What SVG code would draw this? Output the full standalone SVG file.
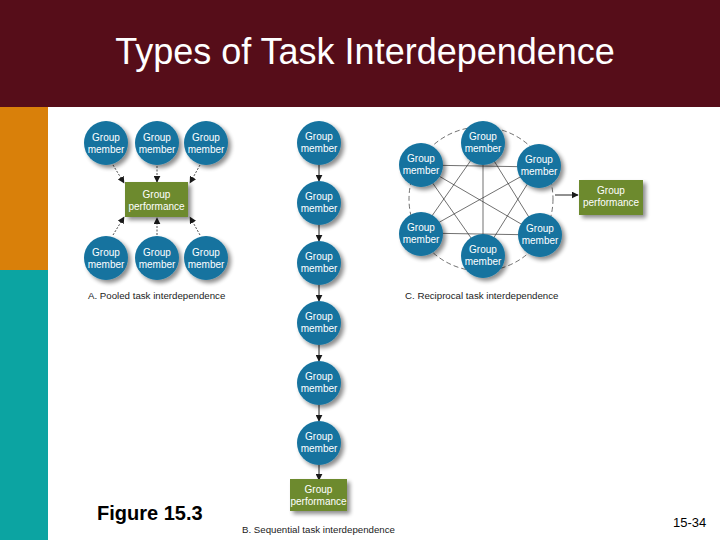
<svg xmlns="http://www.w3.org/2000/svg" width="720" height="540" viewBox="0 0 720 540">
<defs>
<filter id="sh" x="-30%" y="-30%" width="170%" height="170%">
<feGaussianBlur in="SourceAlpha" stdDeviation="2"/>
<feOffset dx="3" dy="3" result="b"/>
<feComponentTransfer><feFuncA type="linear" slope="0.45"/></feComponentTransfer>
<feMerge><feMergeNode/><feMergeNode in="SourceGraphic"/></feMerge>
</filter>
<marker id="ah" viewBox="0 0 10 10" refX="9" refY="5" markerWidth="7" markerHeight="7" orient="auto" markerUnits="userSpaceOnUse">
<path d="M0,0 L10,5 L0,10 z" fill="#1a1a1a"/>
</marker>
</defs>
<style>
.c{fill:#14739f;filter:url(#sh)}
.b{fill:#6d8a2f;filter:url(#sh)}
.t{font-family:"Liberation Sans",Arial,sans-serif;font-size:10px;fill:#fff;text-anchor:middle}
.lbl{font-family:"Liberation Sans",Arial,sans-serif;font-size:9.7px;fill:#222}
.pa{stroke:#222;stroke-width:0.8;stroke-dasharray:2,1.5;fill:none}
.sa{stroke:#222;stroke-width:1;fill:none}
.rl{stroke:#333;stroke-width:0.7;fill:none}
</style>
<rect x="0" y="0" width="720" height="540" fill="#fff"/>
<rect x="0" y="0" width="720" height="107" fill="#560d19"/>
<rect x="0" y="107" width="48" height="163" fill="#d9800a"/>
<rect x="0" y="270" width="48" height="270" fill="#0ca4a2"/>
<text x="365" y="64" font-family="Liberation Sans,Arial,sans-serif" font-size="36" fill="#fff" text-anchor="middle">Types of Task Interdependence</text>

<g id="connectors">
<line class="pa" x1="113" y1="165" x2="124" y2="183" marker-end="url(#ah)"/>
<line class="pa" x1="157" y1="166" x2="157" y2="182" marker-end="url(#ah)"/>
<line class="pa" x1="200" y1="165" x2="190" y2="183" marker-end="url(#ah)"/>
<line class="pa" x1="113" y1="235" x2="124" y2="217" marker-end="url(#ah)"/>
<line class="pa" x1="157" y1="235" x2="157" y2="218" marker-end="url(#ah)"/>
<line class="pa" x1="200" y1="235" x2="190" y2="217" marker-end="url(#ah)"/>

<line class="sa" x1="319" y1="165" x2="319" y2="181" marker-end="url(#ah)"/>
<line class="sa" x1="319" y1="225" x2="319" y2="241" marker-end="url(#ah)"/>
<line class="sa" x1="319" y1="285" x2="319" y2="301" marker-end="url(#ah)"/>
<line class="sa" x1="319" y1="345" x2="319" y2="361" marker-end="url(#ah)"/>
<line class="sa" x1="319" y1="405" x2="319" y2="421" marker-end="url(#ah)"/>
<line class="sa" x1="319" y1="465" x2="319" y2="480" marker-end="url(#ah)"/>

<circle cx="481" cy="199" r="72" class="rl" stroke-dasharray="5,3"/>
<line class="rl" x1="483" y1="143" x2="483" y2="255"/>
<line class="rl" x1="420" y1="165" x2="538" y2="167"/>
<line class="rl" x1="420" y1="233" x2="540" y2="235"/>
<line class="rl" x1="420" y1="165" x2="540" y2="235"/>
<line class="rl" x1="538" y1="167" x2="420" y2="233"/>
<line class="rl" x1="483" y1="143" x2="420" y2="233"/>
<line class="rl" x1="483" y1="143" x2="540" y2="235"/>
<line class="rl" x1="483" y1="255" x2="420" y2="165"/>
<line class="rl" x1="483" y1="255" x2="538" y2="167"/>
<line class="sa" x1="555" y1="195" x2="578" y2="195" marker-end="url(#ah)"/>
</g>

<g id="pooled-m1"><circle class="c" cx="106" cy="143" r="22"/><text class="t" x="106" y="141">Group</text><text class="t" x="106" y="153">member</text></g>
<g id="pooled-m2"><circle class="c" cx="157" cy="143" r="22"/><text class="t" x="157" y="141">Group</text><text class="t" x="157" y="153">member</text></g>
<g id="pooled-m3"><circle class="c" cx="206" cy="143" r="22"/><text class="t" x="206" y="141">Group</text><text class="t" x="206" y="153">member</text></g>
<g id="pooled-perf"><rect class="b" x="125" y="182" width="63" height="35"/><text class="t" x="156.5" y="198">Group</text><text class="t" x="156.5" y="210">performance</text></g>
<g id="pooled-m4"><circle class="c" cx="106" cy="258" r="22"/><text class="t" x="106" y="256">Group</text><text class="t" x="106" y="268">member</text></g>
<g id="pooled-m5"><circle class="c" cx="157" cy="258" r="22"/><text class="t" x="157" y="256">Group</text><text class="t" x="157" y="268">member</text></g>
<g id="pooled-m6"><circle class="c" cx="206" cy="258" r="22"/><text class="t" x="206" y="256">Group</text><text class="t" x="206" y="268">member</text></g>
<text class="lbl" x="88" y="299">A. Pooled task interdependence</text>

<g id="seq-m1"><circle class="c" cx="319" cy="143" r="22"/><text class="t" x="319" y="140">Group</text><text class="t" x="319" y="152">member</text></g>
<g id="seq-m2"><circle class="c" cx="319" cy="203" r="22"/><text class="t" x="319" y="200">Group</text><text class="t" x="319" y="212">member</text></g>
<g id="seq-m3"><circle class="c" cx="319" cy="263" r="22"/><text class="t" x="319" y="260">Group</text><text class="t" x="319" y="272">member</text></g>
<g id="seq-m4"><circle class="c" cx="319" cy="323" r="22"/><text class="t" x="319" y="320">Group</text><text class="t" x="319" y="332">member</text></g>
<g id="seq-m5"><circle class="c" cx="319" cy="383" r="22"/><text class="t" x="319" y="380">Group</text><text class="t" x="319" y="392">member</text></g>
<g id="seq-m6"><circle class="c" cx="319" cy="443" r="22"/><text class="t" x="319" y="440">Group</text><text class="t" x="319" y="452">member</text></g>
<g id="seq-perf"><rect class="b" x="290" y="479" width="57" height="32"/><text class="t" x="318.5" y="493">Group</text><text class="t" x="318.5" y="505">performance</text></g>
<text class="lbl" x="242" y="533">B. Sequential task interdependence</text>

<g id="rec-top"><circle class="c" cx="483" cy="143" r="22"/><text class="t" x="483" y="140">Group</text><text class="t" x="483" y="152">member</text></g>
<g id="rec-ul"><circle class="c" cx="421" cy="165" r="22"/><text class="t" x="421" y="162">Group</text><text class="t" x="421" y="174">member</text></g>
<g id="rec-ur"><circle class="c" cx="539" cy="166" r="22"/><text class="t" x="539" y="163">Group</text><text class="t" x="539" y="175">member</text></g>
<g id="rec-ll"><circle class="c" cx="421" cy="234" r="22"/><text class="t" x="421" y="231">Group</text><text class="t" x="421" y="243">member</text></g>
<g id="rec-lr"><circle class="c" cx="540" cy="235" r="22"/><text class="t" x="540" y="232">Group</text><text class="t" x="540" y="244">member</text></g>
<g id="rec-bot"><circle class="c" cx="483" cy="256" r="22"/><text class="t" x="483" y="253">Group</text><text class="t" x="483" y="265">member</text></g>
<g id="rec-perf"><rect class="b" x="579" y="180" width="64" height="35"/><text class="t" x="611" y="194">Group</text><text class="t" x="611" y="206">performance</text></g>
<text class="lbl" x="405" y="299">C. Reciprocal task interdependence</text>

<text x="97" y="520" font-family="Liberation Sans,Arial,sans-serif" font-size="20" font-weight="bold" fill="#000">Figure 15.3</text>
<text x="673" y="527" font-family="Liberation Sans,Arial,sans-serif" font-size="13" fill="#000">15-34</text>
</svg>
